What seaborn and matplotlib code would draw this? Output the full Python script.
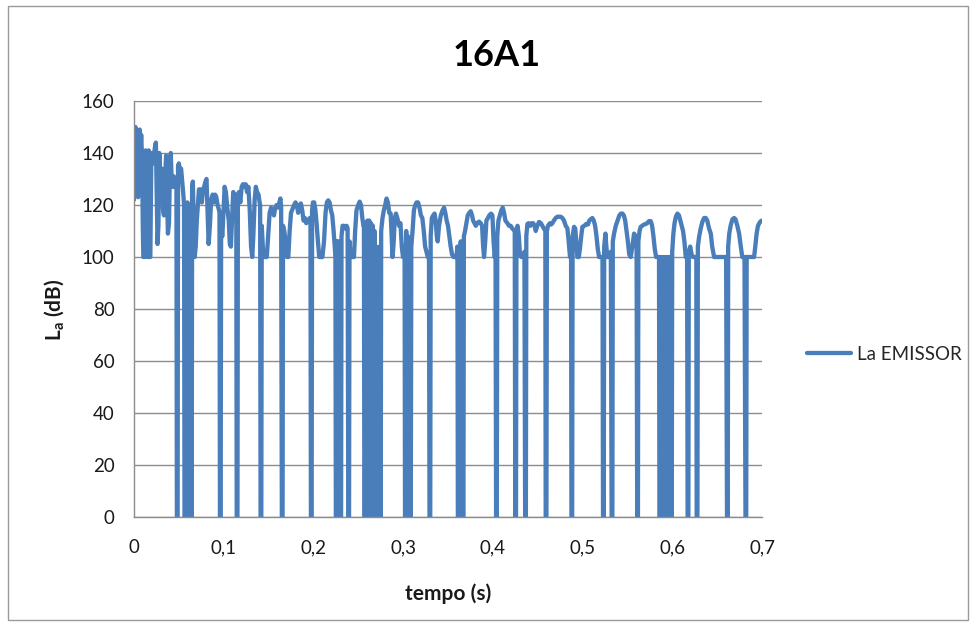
import matplotlib
matplotlib.use("Agg")
import matplotlib.pyplot as plt
import seaborn as sns
import pandas as pd
from matplotlib.patches import Rectangle

# Emitter sound level La (dB) against time (s), in 0.1 s stretches.
# Zero values are dropouts of the received signal.
tempo_1 = [
    0.0000, 0.0008, 0.0016, 0.0024, 0.0030, 0.0038, 0.0046, 0.0054, 0.0064, 0.0072,
    0.0080, 0.0090, 0.0098, 0.0104, 0.0114, 0.0122, 0.0130, 0.0138, 0.0146, 0.0156,
    0.0164, 0.0172, 0.0182, 0.0192, 0.0202, 0.0212, 0.0222, 0.0236, 0.0244, 0.0252,
    0.0262, 0.0272, 0.0282, 0.0292, 0.0302, 0.0314, 0.0324, 0.0334, 0.0346, 0.0358,
    0.0368, 0.0378, 0.0390, 0.0400, 0.0410, 0.0420, 0.0432, 0.0444, 0.0456, 0.0468,
    0.0473, 0.0478, 0.0486, 0.0491, 0.0500, 0.0512, 0.0525, 0.0538, 0.0550, 0.0558,
    0.0563, 0.0570, 0.0576, 0.0582, 0.0589, 0.0595, 0.0601, 0.0608, 0.0614, 0.0620,
    0.0627, 0.0633, 0.0638, 0.0643, 0.0648, 0.0656, 0.0666, 0.0676, 0.0688, 0.0700,
    0.0712, 0.0724, 0.0740, 0.0756, 0.0770, 0.0782, 0.0796, 0.0808, 0.0820, 0.0832,
    0.0846, 0.0860, 0.0876, 0.0890, 0.0904, 0.0918, 0.0932, 0.0948, 0.0953, 0.0958,
    0.0966, 0.0971, 0.0985, 0.0998,
]
la_1 = [
    122, 146, 150, 135, 149, 126, 123, 148, 149, 140,
    147, 138, 112, 100, 100, 138, 141, 110, 100, 139,
    141, 100, 100, 135, 140, 136, 139, 143, 144, 126,
    105, 112, 140, 131, 127, 134, 118, 116, 130, 139,
    125, 109, 113, 133, 140, 129, 127, 131, 127, 128,
    128, 0, 0, 135, 136, 133, 134, 129, 124, 120,
    0, 0, 118, 0, 0, 121, 0, 0, 119, 0,
    0, 118, 0, 0, 127, 129, 112, 100, 104, 114,
    120, 126, 126, 121, 126, 127, 129, 130, 118, 105,
    112, 122, 124, 121, 124, 123, 120, 118, 117, 0,
    0, 110, 108, 118,
]

tempo_2 = [
    0.1010, 0.1024, 0.1040, 0.1056, 0.1068, 0.1080, 0.1094, 0.1106, 0.1120, 0.1135,
    0.1140, 0.1145, 0.1153, 0.1158, 0.1170, 0.1185, 0.1200, 0.1215, 0.1230, 0.1245,
    0.1260, 0.1275, 0.1290, 0.1305, 0.1318, 0.1330, 0.1345, 0.1358, 0.1372, 0.1388,
    0.1400, 0.1406, 0.1411, 0.1419, 0.1424, 0.1440, 0.1455, 0.1480, 0.1495, 0.1512,
    0.1528, 0.1545, 0.1560, 0.1575, 0.1590, 0.1605, 0.1620, 0.1632, 0.1640, 0.1648,
    0.1656, 0.1661, 0.1675, 0.1690, 0.1705, 0.1720, 0.1735, 0.1750, 0.1768, 0.1785,
    0.1800, 0.1815, 0.1830, 0.1845, 0.1860, 0.1875, 0.1890, 0.1905, 0.1920, 0.1935,
    0.1960, 0.1967, 0.1972, 0.1980, 0.1985, 0.1995,
]
la_2 = [
    127, 125, 119, 114, 105, 104, 115, 125, 124, 122,
    122, 0, 0, 124, 125, 121, 127, 128, 127, 128,
    125, 127, 118, 104, 100, 108, 122, 127, 125, 124,
    121, 120, 0, 0, 112, 101, 100, 100, 108, 117,
    119, 118, 116, 119, 120, 119, 121, 122.5, 119, 0,
    0, 112, 110, 106, 100, 100, 110, 117, 118.5, 120,
    121, 120, 117, 119, 120.6, 118, 114, 115, 113, 114,
    115, 115, 0, 0, 118, 121,
]

tempo_3 = [
    0.2008, 0.2022, 0.2035, 0.2050, 0.2065, 0.2100, 0.2118, 0.2135, 0.2150, 0.2165,
    0.2180, 0.2195, 0.2210, 0.2225, 0.2238, 0.2245, 0.2250, 0.2256, 0.2262, 0.2268,
    0.2274, 0.2280, 0.2286, 0.2292, 0.2298, 0.2303, 0.2308, 0.2313, 0.2325, 0.2340,
    0.2355, 0.2370, 0.2381, 0.2389, 0.2397, 0.2402, 0.2415, 0.2435, 0.2452, 0.2465,
    0.2480, 0.2500, 0.2515, 0.2530, 0.2545, 0.2558, 0.2563, 0.2568, 0.2575, 0.2582,
    0.2588, 0.2595, 0.2602, 0.2608, 0.2615, 0.2622, 0.2628, 0.2635, 0.2642, 0.2648,
    0.2655, 0.2662, 0.2668, 0.2675, 0.2682, 0.2688, 0.2694, 0.2700, 0.2715, 0.2730,
    0.2738, 0.2742, 0.2750, 0.2755, 0.2770, 0.2785, 0.2800, 0.2815, 0.2830, 0.2845,
    0.2861, 0.2872, 0.2882, 0.2895, 0.2907, 0.2920, 0.2935, 0.2955, 0.2970, 0.2985,
    0.2998,
]
la_3 = [
    121, 118, 113, 106, 100, 100, 106, 117, 121, 121.8,
    121, 118, 116, 110, 104, 100, 0, 0, 106, 0,
    0, 106, 0, 0, 104, 0, 0, 108, 112, 112,
    111, 112, 111, 0, 0, 106, 100, 100, 100, 110,
    118, 120, 121.3, 120, 115, 112, 112, 0, 0, 113,
    0, 0, 114, 0, 0, 114, 0, 0, 113, 0,
    0, 112, 0, 0, 110, 0, 0, 104, 100, 100,
    104, 0, 0, 110, 115, 118, 120, 122.5, 121, 117,
    116.7, 108, 100, 106, 115, 116.7, 115, 112, 113, 104,
    100,
]

tempo_4 = [
    0.3010, 0.3016, 0.3021, 0.3028, 0.3034, 0.3040, 0.3047, 0.3053, 0.3059, 0.3066,
    0.3072, 0.3078, 0.3085, 0.3091, 0.3105, 0.3120, 0.3135, 0.3150, 0.3166, 0.3182,
    0.3198, 0.3214, 0.3230, 0.3245, 0.3260, 0.3275, 0.3288, 0.3294, 0.3302, 0.3307,
    0.3320, 0.3335, 0.3350, 0.3363, 0.3375, 0.3385, 0.3400, 0.3420, 0.3440, 0.3456,
    0.3470, 0.3485, 0.3500, 0.3515, 0.3530, 0.3545, 0.3560, 0.3590, 0.3600, 0.3605,
    0.3610, 0.3617, 0.3623, 0.3629, 0.3636, 0.3642, 0.3648, 0.3655, 0.3661, 0.3666,
    0.3672, 0.3677, 0.3690, 0.3705, 0.3720, 0.3737, 0.3753, 0.3768, 0.3780, 0.3795,
    0.3810, 0.3825, 0.3846, 0.3865, 0.3880, 0.3892, 0.3902, 0.3915, 0.3928, 0.3945,
    0.3960, 0.3980, 0.3995,
]
la_4 = [
    100, 104, 0, 0, 110, 0, 0, 108, 0, 0,
    106, 0, 0, 104, 110, 118, 120, 121, 121, 119,
    116, 115, 110, 104, 102, 100, 100, 0, 0, 108,
    115, 116, 116.7, 114, 108, 106, 112, 116, 118, 119,
    117, 114, 112, 108, 104, 101, 100, 100, 102, 104,
    0, 0, 104, 0, 0, 106, 0, 0, 104, 0,
    0, 108, 110, 113, 116, 117, 117.6, 116, 114, 113,
    112, 113, 113.6, 113, 112, 104, 100, 106, 114, 115,
    116, 116.7, 116,
]

tempo_5 = [
    0.4008, 0.4020, 0.4030, 0.4036, 0.4044, 0.4049, 0.4062, 0.4078, 0.4095, 0.4110,
    0.4125, 0.4140, 0.4162, 0.4180, 0.4199, 0.4215, 0.4232, 0.4244, 0.4250, 0.4258,
    0.4263, 0.4275, 0.4290, 0.4302, 0.4318, 0.4340, 0.4352, 0.4360, 0.4368, 0.4373,
    0.4385, 0.4400, 0.4418, 0.4432, 0.4450, 0.4465, 0.4478, 0.4495, 0.4515, 0.4535,
    0.4552, 0.4570, 0.4585, 0.4589, 0.4597, 0.4602, 0.4615, 0.4635, 0.4650, 0.4664,
    0.4680, 0.4700, 0.4720, 0.4740, 0.4756, 0.4775, 0.4793, 0.4812, 0.4831, 0.4845,
    0.4860, 0.4872, 0.4876, 0.4884, 0.4889, 0.4905, 0.4918, 0.4930, 0.4942, 0.4958,
    0.4970, 0.4985, 0.4998,
]
la_5 = [
    106, 100, 102, 0, 0, 108, 114, 116, 118, 119,
    117, 114, 113, 112, 112, 111, 110.5, 110, 0, 0,
    110, 112, 108, 101, 100, 100, 102, 0, 0, 108,
    112.7, 113, 112, 113, 113, 112, 110, 112, 113.5, 113,
    112, 111, 110, 0, 0, 110, 112, 113, 112.5, 113,
    114, 115, 115.5, 115.5, 115.5, 115, 114, 112, 111, 106,
    100, 101, 0, 0, 108, 111.6, 111, 106, 100, 100,
    103, 108, 111.6,
]

tempo_6 = [
    0.5020, 0.5040, 0.5060, 0.5075, 0.5090, 0.5109, 0.5125, 0.5140, 0.5155, 0.5170,
    0.5184, 0.5210, 0.5222, 0.5228, 0.5236, 0.5241, 0.5255, 0.5265, 0.5277, 0.5300,
    0.5315, 0.5324, 0.5332, 0.5337, 0.5351, 0.5370, 0.5390, 0.5410, 0.5428, 0.5444,
    0.5460, 0.5475, 0.5490, 0.5505, 0.5520, 0.5537, 0.5555, 0.5574, 0.5590, 0.5602,
    0.5609, 0.5617, 0.5622, 0.5635, 0.5648, 0.5665, 0.5685, 0.5704, 0.5720, 0.5740,
    0.5760, 0.5775, 0.5790, 0.5805, 0.5820, 0.5840, 0.5852, 0.5857, 0.5864, 0.5870,
    0.5876, 0.5883, 0.5889, 0.5895, 0.5902, 0.5908, 0.5914, 0.5921, 0.5927, 0.5933,
    0.5940, 0.5946, 0.5952, 0.5959, 0.5965, 0.5971, 0.5978, 0.5984, 0.5989, 0.5994,
    0.5999,
]
la_6 = [
    112, 112.7, 112.5, 114, 114.5, 115, 114, 112, 108, 103,
    100, 100, 100, 0, 0, 104, 109, 104, 100, 100,
    102, 0, 0, 106, 109, 112, 114, 116, 116.7, 116.7,
    116, 114, 110, 106, 101, 100, 104, 109, 108, 106,
    0, 0, 106, 110, 111.6, 112, 112.5, 112.7, 113, 113.8,
    113.8, 112, 108, 103, 100, 100, 100, 0, 0, 100,
    0, 0, 100, 0, 0, 100, 0, 0, 100, 0,
    0, 100, 0, 0, 100, 0, 0, 100, 0, 0,
    102,
]

tempo_7 = [
    0.6012, 0.6025, 0.6040, 0.6057, 0.6075, 0.6090, 0.6105, 0.6120, 0.6135, 0.6150,
    0.6165, 0.6171, 0.6179, 0.6184, 0.6200, 0.6215, 0.6230, 0.6255, 0.6268, 0.6272,
    0.6280, 0.6285, 0.6300, 0.6317, 0.6335, 0.6355, 0.6373, 0.6390, 0.6410, 0.6429,
    0.6445, 0.6466, 0.6520, 0.6577, 0.6600, 0.6610, 0.6618, 0.6623, 0.6635, 0.6650,
    0.6670, 0.6689, 0.6705, 0.6725, 0.6745, 0.6760, 0.6780, 0.6805, 0.6816, 0.6824,
    0.6829, 0.6870, 0.6912, 0.6925, 0.6940, 0.6955, 0.6970, 0.6986, 0.7000,
]
la_7 = [
    109, 113, 115.5, 116.7, 116, 114, 112, 110, 106, 100,
    100, 0, 0, 102, 104, 101, 100, 100, 100, 0,
    0, 104, 108, 111, 113.5, 115, 115, 114, 111, 109,
    104, 100, 100, 100, 100, 0, 0, 104, 109, 112,
    114.5, 115, 114.5, 112, 109, 105, 100, 100, 0, 0,
    100, 100, 100, 104, 109, 112, 113, 113.8, 114,
]

y_ticks = [0, 20, 40, 60, 80, 100, 120, 140, 160]
x_ticks = [0, 0.1, 0.2, 0.3, 0.4, 0.5, 0.6, 0.7]
x_tick_labels = ["0", "0,1", "0,2", "0,3", "0,4", "0,5", "0,6", "0,7"]

tempo = tempo_1 + tempo_2 + tempo_3 + tempo_4 + tempo_5 + tempo_6 + tempo_7
la_emissor = la_1 + la_2 + la_3 + la_4 + la_5 + la_6 + la_7
serie = pd.DataFrame({"tempo": tempo, "La": la_emissor})

sns.set_theme(style="white")
plt.rcParams["font.family"] = ["Lato", "DejaVu Sans"]
plt.rcParams["mathtext.fontset"] = "custom"
plt.rcParams["mathtext.rm"] = "Lato"
plt.rcParams["mathtext.bf"] = "Lato:bold"

W, H = 976, 626
fig = plt.figure(figsize=(W / 100, H / 100), dpi=100)
fig.patch.set_facecolor("white")
ax = fig.add_axes([134 / W, 1 - 517 / H, (762 - 134) / W, (517 - 101) / H])

sns.lineplot(data=serie, x="tempo", y="La", ax=ax, estimator=None, sort=False,
             color="#4A7EBB", linewidth=3.1, label="La EMISSOR", legend=False)

ax.set_xlim(0, 0.7)
ax.set_ylim(0, 160)
ax.set_xticks(x_ticks)
ax.set_xticklabels(x_tick_labels)
ax.set_yticks(y_ticks)
ax.tick_params(axis="both", length=0, labelsize=13.5, colors="#1a1a1a")
ax.tick_params(axis="y", pad=14)
ax.tick_params(axis="x", pad=16)

ax.yaxis.grid(True, color="#8c8c8c", linewidth=1.0)
ax.xaxis.grid(False)
ax.set_axisbelow(True)
for side in ("top", "right"):
    ax.spines[side].set_visible(False)
for side in ("left", "bottom"):
    ax.spines[side].set_color("#8c8c8c")
    ax.spines[side].set_linewidth(1.0)

ax.set_xlabel("tempo (s)", fontsize=15, fontweight="bold", color="#1a1a1a")
ax.xaxis.set_label_coords(0.5, -(583 - 517) / 416)
ax.set_ylabel("")
fig.text(55 / W, 1 - 310 / H, r"$\mathbf{L}_{\mathbf{a}}$ (dB)", rotation=90,
         ha="center", va="center", fontsize=15, fontweight="bold", color="#1a1a1a")

fig.text(497 / W, 1 - 55 / H, "16A1", ha="center", va="center",
         fontsize=26, fontweight="bold", color="#000000")

handles, labels = ax.get_legend_handles_labels()
fig.legend(handles, labels, loc="center left",
           bbox_to_anchor=(807 / W, 1 - 354 / H), frameon=False,
           fontsize=13.5, handlelength=2.35, handletextpad=0.3, borderpad=0,
           borderaxespad=0)

fig.patches.append(Rectangle((8 / W, 6 / H), (968 - 8) / W, (620 - 6) / H,
                             transform=fig.transFigure, fill=False,
                             edgecolor="#9a9a9a", linewidth=1.0))

fig.savefig("out.png", dpi=100)
